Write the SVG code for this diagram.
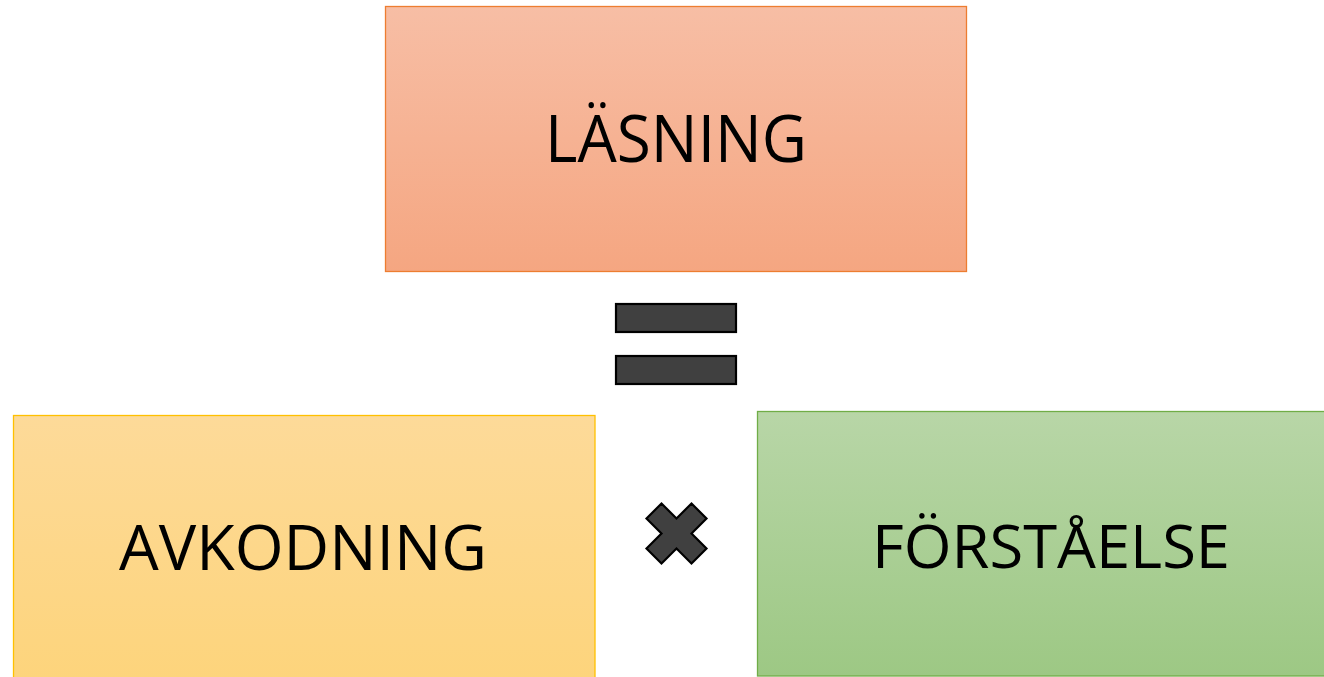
<svg xmlns="http://www.w3.org/2000/svg" width="1324" height="677" viewBox="0 0 1324 677">
<style>
.lbl{font-family:"Open Sans","Liberation Sans",sans-serif;fill:#000;text-anchor:middle}
.op{fill:#404040;stroke:#000;stroke-width:2.2;stroke-linejoin:miter}
</style>
<defs>
<linearGradient id="gO" x1="0" y1="0" x2="0" y2="1"><stop offset="0" stop-color="#F7BEA5"/><stop offset="1" stop-color="#F5A681"/></linearGradient>
<linearGradient id="gY" x1="0" y1="0" x2="0" y2="1"><stop offset="0" stop-color="#FDDA99"/><stop offset="1" stop-color="#FDD47B"/></linearGradient>
<linearGradient id="gG" x1="0" y1="0" x2="0" y2="1"><stop offset="0" stop-color="#B8D6A7"/><stop offset="1" stop-color="#9DC884"/></linearGradient>
</defs>
<rect width="1324" height="677" fill="#fff"/>
<g id="lasning">
<rect x="385.5" y="6.5" width="581" height="265" fill="url(#gO)" stroke="#ED7D31" stroke-width="1.3"/>
<text class="lbl" x="676" y="162" font-size="66" textLength="262" lengthAdjust="spacingAndGlyphs">LÄSNING</text>
</g>
<g id="avkodning">
<rect x="13.5" y="415.5" width="581.5" height="270" fill="url(#gY)" stroke="#FFC000" stroke-width="1.3"/>
<text class="lbl" x="303" y="570" font-size="62" textLength="368" lengthAdjust="spacingAndGlyphs">AVKODNING</text>
</g>
<g id="forstaelse">
<rect x="757.5" y="411.5" width="582" height="264.5" fill="url(#gG)" stroke="#70AD47" stroke-width="1.3"/>
<text class="lbl" x="1051" y="568" font-size="61" textLength="358" lengthAdjust="spacingAndGlyphs">FÖRSTÅELSE</text>
</g>
<g id="equals">
<rect class="op" x="616" y="304" width="120" height="28"/>
<rect class="op" x="616" y="356" width="120" height="28"/>
</g>
<g id="multiply">
<polygon class="op" transform="translate(676.5 533.5)" points="-30,-15 -15,-30 0,-15 15,-30 30,-15 15,0 30,15 15,30 0,15 -15,30 -30,15 -15,0"/>
</g>
<g id="connectors"></g>
</svg>
